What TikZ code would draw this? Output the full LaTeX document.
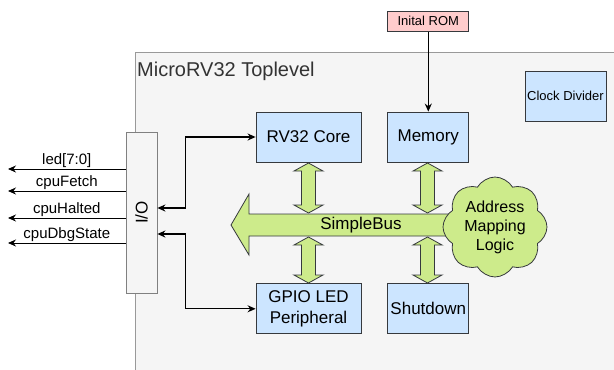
\documentclass[tikz,border=0pt]{standalone}
\usepackage{fontspec}
\setmainfont{Liberation Sans}
\usepackage{xcolor}
\usepackage{tikz}
\usetikzlibrary{shapes.symbols,arrows.meta,positioning,calc}

\definecolor{blockblue}{HTML}{CCE5FF}
\definecolor{busgreen}{HTML}{CDEB8B}
\definecolor{rompink}{HTML}{FFCCCC}
\definecolor{panelgray}{HTML}{F5F5F5}
\definecolor{strokegray}{HTML}{36393D}
\definecolor{panelborder}{HTML}{999999}
\definecolor{ioborder}{HTML}{808080}
\definecolor{titlegray}{HTML}{333333}

\begin{document}
\begin{tikzpicture}[x=1pt, y=-1pt, >={Stealth[length=8pt, width=7pt]}]
\tikzset{
  base/.style={draw=strokegray, line width=0.8pt, align=center, inner sep=1pt},
  block/.style={base, fill=blockblue, minimum height=50pt, font=\fontsize{17}{21}\selectfont},
  smallblock/.style={base, minimum width=81pt, font=\fontsize{13}{15}\selectfont},
  toplevel/.style={draw=panelborder, fill=panelgray, line width=1pt, anchor=north west, minimum width=600pt, minimum height=400pt},
  iobox/.style={draw=ioborder, fill=panelgray, line width=0.8pt, minimum width=31pt, minimum height=161pt},
  busfill/.style={draw=strokegray, fill=busgreen, line width=0.8pt, line join=miter},
  mapping/.style={base, cloud, cloud puffs=8, cloud puff arc=120, cloud ignores aspect, fill=busgreen, minimum width=104pt, minimum height=100pt, inner sep=0pt, font=\fontsize{16}{19}\selectfont},
  link/.style={<->, line width=1.3pt},
  signal/.style={->, line width=0.9pt},
  siglabel/.style={above, inner sep=1pt, font=\fontsize{15}{17}\selectfont},
}
\useasboundingbox (0,0) rectangle (614,370);
\clip (0,0) rectangle (614,370);

% Toplevel
\node (top) [toplevel] at (135,52) {};
\node (toptitle) [anchor=base west, inner sep=0pt, text=titlegray, font=\fontsize{20}{24}\selectfont] at (137,76) {MicroRV32 Toplevel};

% Blocks
\node (core) [block, minimum width=105pt] at (308.5,137) {RV32 Core};
\node (mem) [block, minimum width=81pt, right=26pt of core] {Memory};
\node (gpio) [block, minimum width=105pt, below=121pt of core] {GPIO LED\\Peripheral};
\node (shut) [block, minimum width=81pt, below=121pt of mem] {Shutdown};
\node (rom) [smallblock, fill=rompink, minimum height=20pt, above=80pt of mem] {Inital ROM};
\node (clk) [smallblock, fill=blockblue, minimum height=50pt] at (565.5,96) {Clock Divider};

% Bus
\draw[busfill] (231,225) -- (249,194) -- (249,214) -- (470,214) -- (470,236) -- (249,236) -- (249,255) -- cycle;
\node (bus) [inner sep=0pt, font=\fontsize{17}{21}\selectfont] at (361,225) {SimpleBus};
\foreach \c/\a/\b in {308.5/163/213, 427.5/163/213, 308.5/237/283, 427.5/237/283}
  \draw[busfill] (\c,\a) -- (\c+14.5,\a+8) -- (\c+7,\a+8) -- (\c+7,\b-8) -- (\c+14.5,\b-8)
    -- (\c,\b) -- (\c-14.5,\b-8) -- (\c-7,\b-8) -- (\c-7,\a+8) -- (\c-14.5,\a+8) -- cycle;
\node (aml) [mapping] at (495,227) {Address\\Mapping\\Logic};

% I/O
\node (io) [iobox] at (141.5,212.5) {};
\node (iolabel) [rotate=90, inner sep=0pt, font=\fontsize{17}{21}\selectfont] at (io.center) {I/O};

% Connectors
\draw[->, line width=1.3pt] (rom) -- (mem);
\draw[link] ([yshift=4.5pt]io.east) -- ++(28,0) |- (core.west);
\draw[link] ([yshift=-21.5pt]io.east) -- ++(28,0) |- (gpio.west);

% Signals
\coordinate (led) at (8,169);
\coordinate (fetch) at (8,191);
\coordinate (halted) at (8,218);
\coordinate (dbg) at (8,243);
\draw[signal] (io.west |- led) -- (led) node[siglabel, midway] {led[7:0]};
\draw[signal] (io.west |- fetch) -- (fetch) node[siglabel, midway] {cpuFetch};
\draw[signal] (io.west |- halted) -- (halted) node[siglabel, midway] {cpuHalted};
\draw[signal] (io.west |- dbg) -- (dbg) node[siglabel, midway] {cpuDbgState};

\end{tikzpicture}
\end{document}
